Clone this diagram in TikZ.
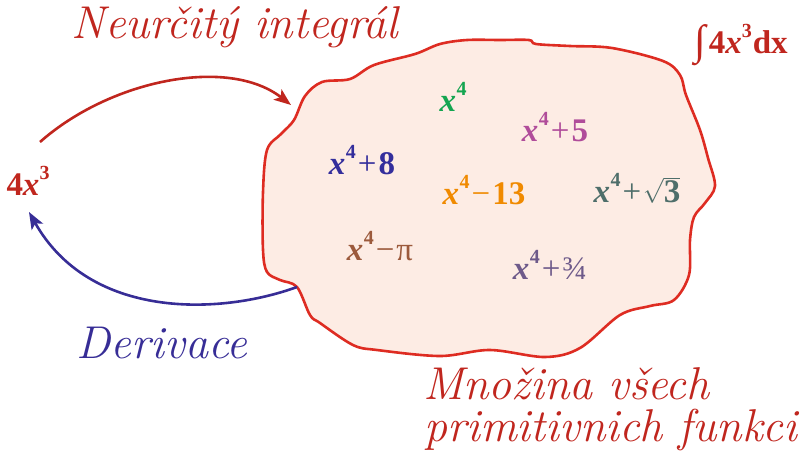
\documentclass[tikz,border=0pt]{standalone}
\usepackage{fontspec}
\usetikzlibrary{arrows.meta}
\newfontfamily\tnr{Liberation Serif}
\definecolor{lblred}{RGB}{192,38,30}
\definecolor{blobred}{RGB}{222,44,34}
\definecolor{blobfill}{RGB}{253,236,228}
\definecolor{derblue}{RGB}{55,45,150}
\definecolor{cgreen}{RGB}{20,165,80}
\definecolor{cpink}{RGB}{176,76,154}
\definecolor{cblue}{RGB}{52,46,156}
\definecolor{corange}{RGB}{240,138,0}
\definecolor{cteal}{RGB}{78,110,106}
\definecolor{cbrown}{RGB}{156,90,60}
\definecolor{cviolet}{RGB}{110,90,138}
\newcommand{\supr}[1]{\raisebox{0.48em}{\fontsize{20}{21}\selectfont\bfseries #1}}
\newcommand{\xf}{\textbf{\textit{x}}\kern0.5pt\supr{4}}
\newcommand{\pl}{\kern2pt+\kern2pt}
\newcommand{\mi}{\kern2pt−\kern2pt}
\begin{document}
\begin{tikzpicture}[x=1pt,y=-1pt,
  lbl/.style={font=\fontsize{46}{50}\selectfont\itshape, inner sep=0pt},
  mth/.style={font=\tnr\fontsize{33}{35}\selectfont, inner sep=0pt},
  arr/.style={line width=2.6pt, -{Stealth[length=17pt,width=13pt,inset=4pt]}}]
\useasboundingbox (0,0) rectangle (803,459);
% blob
\draw[blobred, line width=2.6pt, fill=blobfill] plot[smooth cycle, tension=0.55] coordinates {
 (305,96) (322,82) (350,79) (374,65) (415,54) (440,44) (467,40) (500,40) (529,40) (536,44)
 (570,46) (612,48) (663,61) (680,75) (686,95) (700,130) (708,158) (715,186) (705,203)
 (694,217) (690,240) (689,275) (674,300) (650,306) (620,315) (580,348) (545,357) (490,350)
 (440,356) (377,350) (353,345) (320,323) (310,315) (297,287) (280,280) (267,272) (263,250)
 (263,192) (267,150) (281,134) (294,120)};
% labels
\node[lbl, text=lblred] (neur) at (235,27) {Neurčitý integrál};
\node[lbl, text=derblue] (der) at (162,343) {Derivace};
\node[lbl, text=lblred, anchor=base west] (mn1) at (423,399) {Množina všech};
\node[lbl, text=lblred, anchor=base west] (mn2) at (424,441) {primitivnich funkci};
\node[mth, text=lblred, anchor=base] (integ) at (741,53) {\raisebox{-1pt}{\fontsize{42}{42}\selectfont ∫}\kern3pt\textbf{4}\textbf{\textit{x}}\supr{3}\kern1pt\textbf{dx}};
\node[mth, text=lblred] (fx) at (28,181) {\textbf{4}\textbf{\textit{x}}\supr{3}};
% members
\node[mth, text=cgreen] (m1) at (453,97) {\xf};
\node[mth, text=cpink] (m2) at (555,127) {\xf\pl\textbf{5}};
\node[mth, text=cblue] (m3) at (362,160) {\xf\pl\textbf{8}};
\node[mth, text=corange] (m4) at (484,190) {\xf\mi\textbf{13}};
\node[mth, text=cteal] (m5) at (637,188) {\xf\pl$\sqrt{\mbox{\tnr\fontsize{33}{35}\selectfont\bfseries 3}}$};
\node[mth, text=cbrown] (m6) at (380,246) {\xf\mi π};
\node[mth, text=cviolet] (m7) at (550,265) {\xf\pl¾};
% arrows
\coordinate (rs) at (40,142);
\coordinate (re) at (291,105);
\coordinate (bs) at (297,287);
\coordinate (be) at (29,212);
\draw[arr, lblred] (rs) .. controls (110,80) and (228,56) .. (re);
\draw[arr, derblue] (bs) .. controls (220,315) and (90,320) .. (be);
\end{tikzpicture}
\end{document}
